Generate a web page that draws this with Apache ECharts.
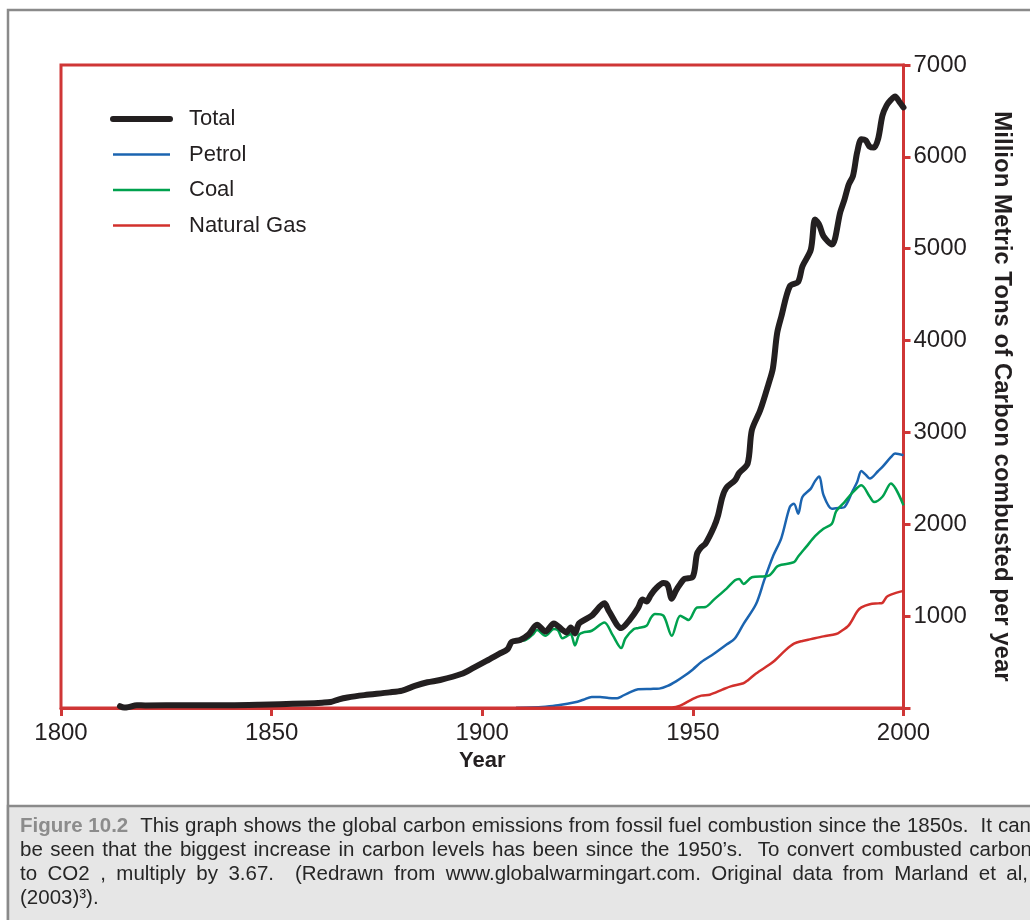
<!DOCTYPE html>
<html><head><meta charset="utf-8">
<script src="https://cdn.jsdelivr.net/npm/echarts@6/dist/echarts.min.js"></script>
<style>html,body{margin:0;padding:0;background:#fff}#c{width:1030px;height:920px}</style>
</head><body><div id="c"></div>
<script>
// ---- data ----
const seriesNames = ['Total', 'Petrol', 'Coal', 'Natural Gas'];
const xTicks = [1800, 1850, 1900, 1950, 2000];
const yTicks = [1000, 2000, 3000, 4000, 5000, 6000, 7000];

const totalYears = [1814,1815,1816,1818,1820,1830,1840,1847,1852,1858,1862,1864,1866,1868,1872,1878,1881,1884,1887,1890,1895,1898,1901,1904,1906,1907,1909,1911,1913,1915,1917,1919,1920,1921,1922,1923,1926,1929,1930,1933,1935,1937,1938,1939,1940,1941,1943,1944,1945,1946,1947,1948,1950,1951,1952,1953,1955,1956,1957,1958,1960,1961,1963,1964,1966,1968,1969,1970,1971,1973,1975,1976,1978,1979,1980,1981,1983,1985,1986,1987,1988,1989,1990,1991,1992,1993,1994,1995,1996,1997,1998,1999,2000];
const totalValues = [20,5,10,30,28,30,30,35,42,50,58,65,95,115,140,170,190,240,280,305,370,440,513,590,640,720,740,800,906,833,921,850,823,877,811,921,1005,1139,1060,870,960,1090,1180,1160,1230,1290,1360,1340,1190,1280,1350,1405,1430,1680,1750,1790,1970,2100,2297,2400,2479,2560,2661,3025,3243,3535,3700,4080,4262,4590,4640,4808,4990,5318,5260,5136,5045,5400,5537,5700,5791,6050,6192,6180,6110,6101,6200,6450,6560,6620,6658,6600,6538];

const petrolYears = [1908,1912,1915,1918,1922,1924,1926,1928,1930,1932,1933,1935,1937,1940,1942,1944,1946,1948,1950,1952,1955,1958,1960,1962,1965,1967,1969,1971,1973,1974,1975,1976,1978,1979,1980,1981,1983,1985,1986,1988,1989,1990,1991,1992,1994,1995,1997,1998,2000];
const petrolValues = [0,5,15,30,62,90,120,120,108,106,125,170,204,208,211,240,290,350,420,500,590,690,760,914,1132,1400,1650,1850,2187,2224,2115,2297,2388,2470,2520,2320,2170,2180,2187,2370,2460,2580,2540,2498,2580,2624,2730,2770,2752];

const coalYears = [1908,1910,1912,1913,1915,1917,1918,1919,1920,1921,1922,1923,1924,1926,1929,1931,1933,1934,1936,1937,1939,1940,1941,1943,1945,1947,1949,1951,1953,1955,1958,1960,1961,1962,1964,1968,1970,1971,1974,1975,1977,1979,1981,1983,1984,1986,1988,1990,1992,1993,1995,1997,2000];
const coalValues = [732,735,800,848,786,859,845,760,780,805,680,800,823,841,932,790,652,760,859,870,895,980,1023,1005,786,1005,958,1095,1100,1180,1300,1390,1405,1351,1423,1441,1540,1560,1587,1650,1760,1870,1951,2006,2140,2242,2350,2424,2300,2242,2300,2443,2206];

const gasYears = [1908,1920,1930,1940,1945,1947,1950,1952,1954,1957,1959,1962,1963,1965,1969,1972,1974,1976,1978,1981,1984,1985,1987,1989,1990,1992,1994,1995,1996,1997,2000];
const gasValues = [0,5,5,5,5,25,100,135,145,200,235,270,300,375,500,630,700,730,750,780,805,830,900,1050,1095,1130,1139,1145,1210,1235,1275];

const captionLines = [
  ['Figure 10.2', '  This graph shows the global carbon emissions from fossil fuel combustion since the 1850s.  It can'],
  ['', 'be seen that the biggest increase in carbon levels has been since the 1950\u2019s.  To convert combusted carbon'],
  ['', 'to CO2 , multiply by 3.67.  (Redrawn from www.globalwarmingart.com. Original data from Marland et al,'],
  ['', '(2003)\u00B3).']
];

// ---- build ----
const pairs = (xs, vs) => xs.map((x, i) => [x, vs[i]]);
const RED = '#cf3636';
const INK = '#231f20';
const FONT = '"Liberation Sans", Arial, Helvetica, sans-serif';
const colors = {Total: INK, Petrol: '#1b64b0', Coal: '#00a14e', 'Natural Gas': '#d2302c'};
const widths = {Total: 6, Petrol: 2.5, Coal: 2.5, 'Natural Gas': 2.5};

const chart = echarts.init(document.getElementById('c'), null, {renderer: 'canvas'});

// caption layout (justified like the reference)
const cv = document.createElement('canvas').getContext('2d');
const capSize = 20.5;
const capReg = capSize + 'px ' + FONT;
const capBold = 'bold ' + capSize + 'px ' + FONT;
const lineTargets = [1031, 1032, 1028, null];
const lineMid = [826, 850, 874, 898];
const capLeft = 20;
const graphics = [
  {type: 'rect', shape: {x: 8, y: 10, width: 1100, height: 1000}, style: {fill: '#fff', stroke: '#8a8a8a', lineWidth: 2.5}, z: -10, silent: true},
  {type: 'rect', shape: {x: 8, y: 806, width: 1100, height: 300}, style: {fill: '#e6e6e6', stroke: '#8a8a8a', lineWidth: 2.5}, z: -9, silent: true}
];
captionLines.forEach((ln, li) => {
  const [boldPart, rest] = ln;
  cv.font = capBold;
  const wb = boldPart ? cv.measureText(boldPart).width : 0;
  cv.font = capReg;
  const spaceW = cv.measureText(' ').width;
  const toks = [];
  let sp = 0, cur = '';
  for (const ch of rest) {
    if (ch === ' ') { if (cur) { toks.push({w: cur, sp}); cur = ''; sp = 0; } sp++; }
    else cur += ch;
  }
  if (cur) toks.push({w: cur, sp});
  let x = wb, natural = [], totalSp = 0;
  toks.forEach(t => { x += t.sp * spaceW; natural.push(x); x += cv.measureText(t.w).width; totalSp += t.sp; });
  const naturalEnd = capLeft + x;
  const extra = lineTargets[li] ? (lineTargets[li] - naturalEnd) : 0;
  if (boldPart) {
    graphics.push({type: 'text', x: capLeft, y: lineMid[li], silent: true,
      style: {text: boldPart, font: capBold, fill: '#8c8c8c', textVerticalAlign: 'middle', textAlign: 'left'}});
  }
  let cum = 0;
  toks.forEach((t, k) => {
    cum += t.sp;
    const px = capLeft + natural[k] + (totalSp ? extra * cum / totalSp : 0);
    graphics.push({type: 'text', x: px, y: lineMid[li], silent: true,
      style: {text: t.w, font: capReg, fill: '#262626', textVerticalAlign: 'middle', textAlign: 'left'}});
  });
});

const option = {
  animation: false,
  backgroundColor: '#fff',
  textStyle: {fontFamily: FONT},
  grid: {left: 61, right: 126.5, top: 65, bottom: 212, show: true, borderColor: RED, borderWidth: 3, backgroundColor: 'transparent'},
  legend: {
    orient: 'vertical', left: 110, top: 108, padding: 0, itemWidth: 57, itemHeight: 1, itemGap: 13.5,
    data: seriesNames.map(n => ({name: n, lineStyle: {width: widths[n], color: colors[n]}})),
    itemStyle: {opacity: 0},
    textStyle: {fontSize: 22, color: INK, fontFamily: FONT, padding: [0, 0, 0, 14], lineHeight: 22},
    selectedMode: false
  },
  xAxis: {
    type: 'value', min: xTicks[0], max: xTicks[xTicks.length - 1], interval: 50,
    name: 'Year', nameLocation: 'middle', nameGap: 39,
    nameTextStyle: {fontSize: 22, fontWeight: 'bold', color: INK, fontFamily: FONT},
    axisLine: {show: true, onZero: false, lineStyle: {color: RED, width: 3}},
    axisTick: {show: true, length: 8, lineStyle: {color: RED, width: 3}},
    axisLabel: {fontSize: 24, color: INK, margin: 13, fontFamily: FONT, formatter: v => String(v)},
    splitLine: {show: false}
  },
  yAxis: {
    type: 'value', position: 'right', min: 0, max: yTicks[yTicks.length - 1], interval: 1000,
    name: 'Million Metric Tons of Carbon combusted per year', nameLocation: 'middle', nameRotate: -90, nameGap: 86,
    nameTextStyle: {fontSize: 24, fontWeight: 'bold', color: INK, fontFamily: FONT, padding: [0, 0, 0, 20]},
    axisLine: {show: true, onZero: false, lineStyle: {color: RED, width: 3}},
    axisTick: {show: true, length: 7, lineStyle: {color: RED, width: 3}},
    axisLabel: {fontSize: 24, color: INK, margin: 10, fontFamily: FONT, padding: [3, 0, 0, 0],
      formatter: v => (yTicks.indexOf(v) >= 0 ? String(v) : '')},
    splitLine: {show: false}
  },
  graphic: graphics,
  series: [
    {name: 'Total', type: 'line', data: pairs(totalYears, totalValues), smooth: 0.3, symbol: 'none', z: 5,
      lineStyle: {color: INK, width: 6, cap: 'round', join: 'round'}, itemStyle: {color: INK}},
    {name: 'Petrol', type: 'line', data: pairs(petrolYears, petrolValues), smooth: 0.3, symbol: 'none', z: 3,
      lineStyle: {color: colors.Petrol, width: 2.5}, itemStyle: {color: colors.Petrol}},
    {name: 'Coal', type: 'line', data: pairs(coalYears, coalValues), smooth: 0.3, symbol: 'none', z: 4,
      lineStyle: {color: colors.Coal, width: 2.5}, itemStyle: {color: colors.Coal}},
    {name: 'Natural Gas', type: 'line', data: pairs(gasYears, gasValues), smooth: 0.3, symbol: 'none', z: 3,
      lineStyle: {color: colors['Natural Gas'], width: 2.5}, itemStyle: {color: colors['Natural Gas']}}
  ]
};
chart.setOption(option);
</script></body></html>
